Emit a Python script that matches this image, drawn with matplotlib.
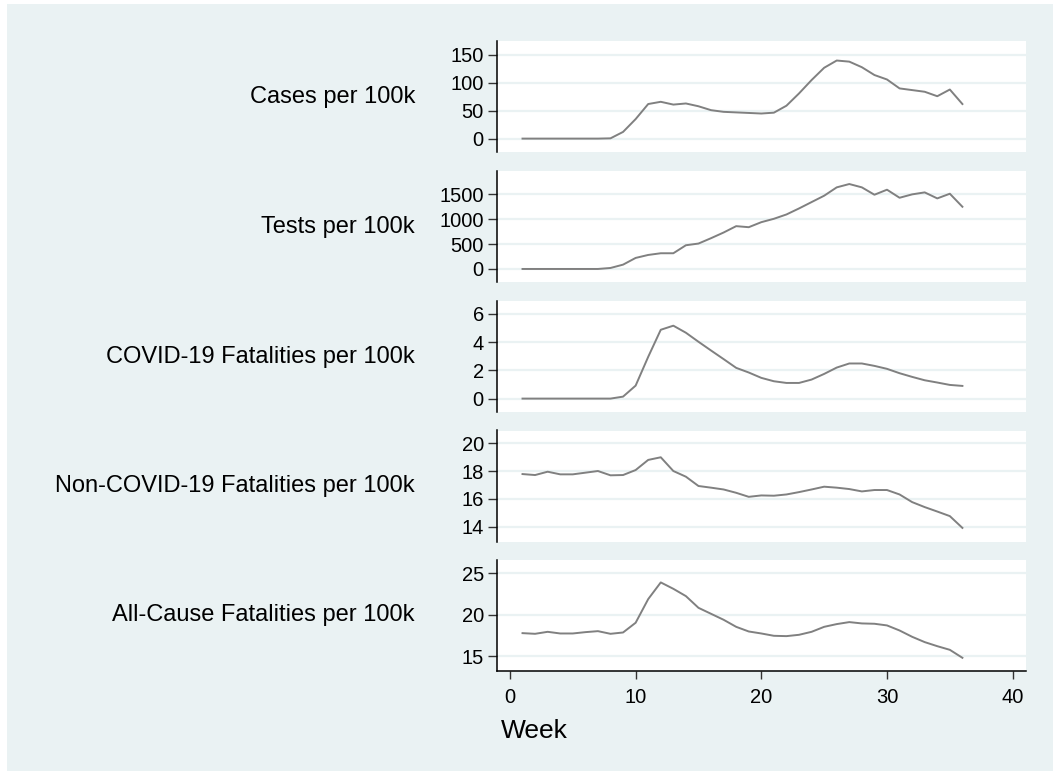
import matplotlib
matplotlib.use("Agg")
import matplotlib.pyplot as plt
from matplotlib.patches import Rectangle

plt.rcParams['font.family'] = ['Liberation Sans', 'DejaVu Sans']

# weekly series, weeks 1..36
weeks = list(range(1, 37))

cases = [0, 0, 0, 0, 0, 0, 0, 0.5, 12, 35, 62, 66, 61, 63, 58, 51, 48, 47, 46, 45,
         46.5, 59, 81, 105, 127, 140, 138, 128, 114, 106, 90, 87, 84, 76, 88, 62]
tests = [0, 0, 0, 0, 0, 0, 0, 20, 87, 222, 282, 316, 316, 477, 511, 619, 733, 861, 840, 941,
         1009, 1096, 1217, 1345, 1473, 1641, 1708, 1641, 1493, 1594, 1432, 1500, 1540, 1419, 1513, 1251]
covid_deaths = [0, 0, 0, 0, 0, 0, 0, 0, 0.14, 0.92, 2.96, 4.88, 5.17, 4.67, 4.03, 3.41, 2.80, 2.18,
                1.85, 1.47, 1.23, 1.11, 1.11, 1.35, 1.75, 2.20, 2.49, 2.49, 2.32, 2.11, 1.80, 1.54,
                1.30, 1.14, 0.97, 0.90]
noncovid_deaths = [17.78, 17.71, 17.95, 17.76, 17.76, 17.88, 18.0, 17.69, 17.71, 18.07, 18.80, 18.99,
                   18.0, 17.59, 16.92, 16.80, 16.67, 16.43, 16.14, 16.24, 16.22, 16.31, 16.48, 16.67,
                   16.87, 16.80, 16.70, 16.53, 16.63, 16.63, 16.31, 15.76, 15.40, 15.08, 14.75, 13.9]
allcause_deaths = [17.79, 17.71, 17.95, 17.75, 17.75, 17.91, 18.03, 17.71, 17.87, 19.04, 21.89, 23.90,
                   23.13, 22.25, 20.84, 20.12, 19.40, 18.55, 17.99, 17.75, 17.47, 17.43, 17.59, 17.95,
                   18.55, 18.88, 19.12, 18.96, 18.92, 18.72, 18.11, 17.35, 16.71, 16.22, 15.78, 14.82]

labels = ["Cases per 100k", "Tests per 100k", "COVID-19 Fatalities per 100k",
          "Non-COVID-19 Fatalities per 100k", "All-Cause Fatalities per 100k"]
series = [cases, tests, covid_deaths, noncovid_deaths, allcause_deaths]
yticks = [[0, 50, 100, 150], [0, 500, 1000, 1500], [0, 2, 4, 6], [14, 16, 18, 20], [15, 20, 25]]
ylims = [(-24, 175), (-262, 1970), (-0.95, 6.92), (12.92, 20.92), (13.23, 26.6)]
xticks = [0, 10, 20, 30, 40]

bg = '#eaf2f3'
W, H = 1053, 771
fig = plt.figure(figsize=(W / 100, H / 100), dpi=100)
fig.patch.set_facecolor('white')
fig.patches.append(Rectangle((7 / W, 0), 1 - 7 / W, 1 - 4 / H, transform=fig.transFigure,
                             facecolor=bg, edgecolor='none', zorder=-10))

left = 497 / W
width = 1026 / W - left
height = 111 / H
bottoms = [1 - 152 / H, 1 - 282 / H, 1 - 412 / H, 1 - 541.5 / H, 1 - 671 / H]

for i, (lab, ys) in enumerate(zip(labels, series)):
    ax = fig.add_axes([left, bottoms[i], width, height])
    ax.set_facecolor('white')
    ax.plot(weeks, ys, color='#808080', lw=1.4, zorder=3)
    ax.set_xlim(-1.03, 41.06)
    ax.set_ylim(*ylims[i])
    ax.set_yticks(yticks[i])
    for y in yticks[i]:
        ax.axhline(y, color=bg, lw=1.6, zorder=1)
    for s in ['top', 'right']:
        ax.spines[s].set_visible(False)
    ax.spines['left'].set_linewidth(1.1)
    ax.tick_params(axis='y', direction='out', length=6.5, width=1, color='#333333',
                   labelsize=14.5, pad=3)
    if i < 4:
        ax.spines['bottom'].set_visible(False)
        ax.set_xticks([])
    else:
        ax.spines['bottom'].set_linewidth(1.1)
        ax.set_xticks(xticks)
        ax.tick_params(axis='x', direction='out', length=6, width=1, color='#333333',
                       labelsize=14.5, pad=6)
    fig.text(415 / W, bottoms[i] + height / 2, lab, ha='right', va='center', fontsize=17)

fig.text(501 / W, 1 - 731 / H, "Week", ha='left', va='center', fontsize=19)

fig.savefig("out.png", dpi=100)
